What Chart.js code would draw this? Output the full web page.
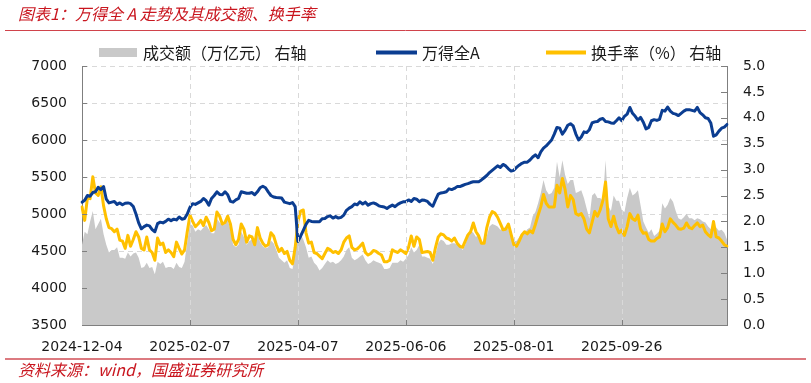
<!DOCTYPE html>
<html>
<head>
<meta charset="utf-8">
<script src="https://cdn.jsdelivr.net/npm/chart.js@4/dist/chart.umd.min.js"></script>
<style>
body { margin: 0; background: #fff; }
</style>
</head>
<body>
<canvas id="chart" width="811" height="383"></canvas>
<script>
// tick labels shown on the date axis
var tickLabels = ["2024-12-04", "2025-02-07", "2025-04-07", "2025-06-06", "2025-08-01", "2025-09-26"];

// exchange closed days (weekends are skipped as well)
var holidays = ["2025-01-01", "2025-01-28", "2025-01-29", "2025-01-30", "2025-01-31", "2025-02-03", "2025-02-04",
    "2025-04-04", "2025-05-01", "2025-05-02", "2025-05-05", "2025-06-02",
    "2025-10-01", "2025-10-02", "2025-10-03", "2025-10-06", "2025-10-07", "2025-10-08"];

// 万得全A
var windA = [
    5160, 5185, 5250, 5240, 5290, 5300, 5360, 5330, 5370, 5200,
    5150, 5160, 5170, 5130, 5150, 5125, 5145, 5150, 5140, 5100,
    5000, 4880, 4800, 4830, 4850, 4840, 4790, 4760, 4870, 4890,
    4880, 4900, 4930, 4910, 4930, 4920, 4960, 4930, 4940, 5000,
    5090, 5140, 5130, 5150, 5170, 5210, 5180, 5120, 5210, 5250,
    5300, 5265, 5260, 5300, 5260, 5170, 5160, 5190, 5210, 5300,
    5290, 5280, 5280, 5290, 5260, 5300, 5355, 5375, 5355, 5300,
    5250, 5230, 5222, 5220, 5215, 5160, 5150, 5140, 5155, 5100,
    4630, 4700, 4780, 4860, 4915, 4900, 4895, 4895, 4895, 4935,
    4940, 4965, 4975, 4945, 4965, 4945, 4955, 4985, 5050, 5080,
    5100, 5135, 5125, 5165, 5135, 5160, 5120, 5140, 5150, 5135,
    5110, 5100, 5095, 5075, 5100, 5120, 5100, 5130, 5150, 5165,
    5167, 5190, 5170, 5210, 5200, 5165, 5190, 5185, 5170, 5130,
    5105, 5190, 5270, 5285, 5290, 5300, 5340, 5330, 5345, 5370,
    5370, 5385, 5400, 5410, 5425, 5435, 5437, 5437, 5460, 5490,
    5520, 5560, 5590, 5620, 5650, 5630, 5670, 5650, 5610, 5580,
    5590, 5630, 5660, 5685, 5700, 5700, 5730, 5770, 5800, 5760,
    5840, 5890, 5920, 5960, 6000, 6080, 6170, 6160, 6080, 6130,
    6200, 6220, 6190, 6080, 6000, 6040, 6110, 6100, 6140, 6230,
    6245, 6250, 6280, 6290, 6250, 6245, 6230, 6225, 6260, 6300,
    6260, 6320, 6350, 6440, 6360, 6320, 6270, 6305, 6240, 6150,
    6170, 6260, 6275, 6265, 6280, 6400, 6390, 6445, 6390, 6360,
    6350, 6330, 6360, 6390, 6410, 6410, 6400, 6390, 6440, 6370,
    6340, 6300, 6290, 6230, 6050, 6070, 6120, 6160, 6175, 6210
];

// 换手率（%）
var turnoverRate = [
    2.28, 2.02, 2.45, 2.44, 2.86, 2.55, 2.50, 2.67, 2.30, 2.05,
    1.88, 1.86, 1.80, 1.85, 1.64, 1.62, 1.48, 1.73, 1.52, 1.65,
    1.80, 1.70, 1.48, 1.45, 1.70, 1.45, 1.40, 1.25, 1.68, 1.55,
    1.58, 1.40, 1.45, 1.40, 1.32, 1.60, 1.48, 1.37, 1.45, 1.80,
    2.12, 2.00, 1.90, 1.95, 2.02, 1.92, 2.08, 1.98, 1.82, 1.85,
    2.18, 2.10, 1.95, 1.98, 2.10, 1.95, 1.65, 1.55, 1.65, 1.95,
    1.85, 1.60, 1.72, 1.70, 1.55, 1.88, 1.68, 1.58, 1.52, 1.55,
    1.78, 1.72, 1.55, 1.42, 1.48, 1.38, 1.42, 1.25, 1.18, 1.50,
    2.00, 2.20, 2.22, 1.78, 1.58, 1.60, 1.40, 1.38, 1.33, 1.28,
    1.38, 1.48, 1.45, 1.40, 1.42, 1.38, 1.45, 1.60, 1.68, 1.72,
    1.50, 1.45, 1.47, 1.52, 1.58, 1.40, 1.35, 1.38, 1.44, 1.42,
    1.38, 1.35, 1.22, 1.22, 1.25, 1.45, 1.42, 1.40, 1.45, 1.42,
    1.38, 1.50, 1.72, 1.52, 1.70, 1.65, 1.40, 1.41, 1.42, 1.40,
    1.25, 1.50, 1.70, 1.76, 1.74, 1.68, 1.66, 1.62, 1.68, 1.58,
    1.52, 1.50, 1.62, 1.74, 1.80, 1.97, 1.80, 1.72, 1.58, 1.58,
    1.88, 2.08, 2.19, 2.16, 2.08, 1.96, 1.84, 1.85, 1.95, 1.75,
    1.55, 1.52, 1.62, 1.74, 1.80, 1.76, 1.82, 1.78, 1.94, 2.12,
    2.28, 2.52, 2.35, 2.28, 2.28, 2.28, 2.70, 2.55, 2.83, 2.62,
    2.28, 2.50, 2.42, 2.15, 2.12, 2.15, 2.05, 1.85, 1.78, 1.98,
    2.19, 2.10, 2.22, 2.40, 2.76, 2.05, 1.90, 2.10, 1.90, 1.78,
    1.83, 1.73, 1.90, 2.15, 2.05, 2.02, 2.12, 1.85, 1.77, 1.78,
    1.65, 1.62, 1.62, 1.67, 1.70, 1.95, 1.80, 1.88, 2.05, 1.98,
    1.93, 1.86, 1.85, 1.87, 1.97, 1.88, 1.86, 1.92, 1.97, 1.90,
    1.93, 1.80, 1.74, 1.70, 2.00, 1.70, 1.68, 1.62, 1.55, 1.52
];

// 成交额（万亿元）
var turnoverAmount = [
    1.55, 1.80, 1.75, 2.00, 2.20, 1.85, 1.95, 2.05, 1.75, 1.55,
    1.40, 1.45, 1.45, 1.50, 1.30, 1.30, 1.28, 1.40, 1.32, 1.38,
    1.40, 1.30, 1.10, 1.12, 1.20, 1.10, 1.12, 0.98, 1.22, 1.18,
    1.22, 1.10, 1.12, 1.12, 1.08, 1.20, 1.12, 1.10, 1.22, 1.60,
    1.95, 1.92, 1.80, 1.85, 1.82, 1.88, 1.93, 1.85, 1.77, 1.77,
    2.05, 1.98, 1.93, 1.95, 2.02, 1.85, 1.55, 1.50, 1.55, 1.80,
    1.70, 1.55, 1.62, 1.65, 1.55, 1.75, 1.60, 1.52, 1.48, 1.50,
    1.63, 1.58, 1.45, 1.30, 1.25, 1.20, 1.25, 1.10, 1.08, 1.40,
    1.70, 1.75, 1.65, 1.50, 1.30, 1.32, 1.20, 1.15, 1.05, 1.10,
    1.18, 1.25, 1.20, 1.22, 1.18, 1.20, 1.25, 1.32, 1.45, 1.50,
    1.30, 1.25, 1.28, 1.32, 1.36, 1.25, 1.18, 1.20, 1.25, 1.22,
    1.20, 1.18, 1.08, 1.08, 1.10, 1.20, 1.20, 1.20, 1.25, 1.22,
    1.28, 1.35, 1.50, 1.40, 1.45, 1.55, 1.32, 1.32, 1.30, 1.28,
    1.18, 1.35, 1.58, 1.65, 1.62, 1.55, 1.55, 1.58, 1.58, 1.55,
    1.52, 1.45, 1.55, 1.70, 1.82, 1.78, 1.70, 1.75, 1.60, 1.55,
    1.72, 1.90, 1.95, 1.93, 1.90, 1.84, 1.86, 1.90, 1.85, 1.70,
    1.62, 1.62, 1.70, 1.78, 1.77, 1.85, 1.88, 2.10, 2.18, 2.35,
    2.55, 2.80, 2.60, 2.52, 2.55, 2.65, 3.15, 2.85, 3.18, 2.90,
    2.72, 2.80, 2.80, 2.55, 2.57, 2.60, 2.45, 2.25, 2.05, 2.50,
    2.55, 2.45, 2.45, 2.40, 3.18, 2.30, 2.20, 2.50, 2.40, 2.40,
    2.22, 2.18, 2.45, 2.65, 2.50, 2.54, 2.60, 2.30, 2.00, 1.88,
    1.78, 1.85, 1.72, 1.76, 1.82, 2.35, 2.25, 2.32, 2.45, 2.38,
    2.20, 2.06, 2.03, 2.08, 2.15, 2.06, 2.06, 2.02, 2.06, 2.04,
    2.00, 1.98, 1.90, 1.85, 1.92, 1.88, 1.82, 1.84, 1.78, 1.65
];

// trading days starting 2024-12-04
var dates = [];
var day = Date.UTC(2024, 11, 4);
while (dates.length < windA.length) {
    var d = new Date(day);
    var s = d.toISOString().slice(0, 10);
    if (d.getUTCDay() != 0 && d.getUTCDay() != 6 && holidays.indexOf(s) < 0) {
        dates.push(s);
    }
    day += 86400000;
}

var blue = "#0b3d91";
var gold = "#ffc000";
var grey = "#c9c9c9";
var axisColor = "#7f7f7f";
var redText = "#c9161f";

// title, legend, source, and the short inside tick marks
var decorations = {
    id: "decorations",
    afterDraw: function(chart) {
        var ctx = chart.ctx;
        var area = chart.chartArea;
        var x = chart.scales.x, y = chart.scales.y, y1 = chart.scales.y1;
        ctx.save();

        // dashed vertical grid at the labelled dates
        ctx.strokeStyle = "#d9d9d9";
        ctx.lineWidth = 1;
        ctx.setLineDash([5, 4]);
        for (var i = 1; i < tickLabels.length; i++) {
            var px = Math.round(x.getPixelForValue(dates.indexOf(tickLabels[i]))) + 0.5;
            ctx.beginPath();
            ctx.moveTo(px, area.top);
            ctx.lineTo(px, area.bottom);
            ctx.stroke();
        }
        ctx.setLineDash([]);

        // inside tick marks
        ctx.strokeStyle = axisColor;
        for (var i = 1; i < tickLabels.length; i++) {
            var px = Math.round(x.getPixelForValue(dates.indexOf(tickLabels[i]))) + 0.5;
            ctx.beginPath();
            ctx.moveTo(px, area.bottom);
            ctx.lineTo(px, area.bottom - 5);
            ctx.stroke();
        }
        y.ticks.forEach(function(t) {
            var py = Math.round(y.getPixelForValue(t.value)) + 0.5;
            ctx.beginPath();
            ctx.moveTo(area.left, py);
            ctx.lineTo(area.left + 5, py);
            ctx.stroke();
        });
        y1.ticks.forEach(function(t) {
            var py = Math.round(y1.getPixelForValue(t.value)) + 0.5;
            ctx.beginPath();
            ctx.moveTo(area.right, py);
            ctx.lineTo(area.right - 6, py);
            ctx.stroke();
        });

        // title and rules
        ctx.fillStyle = redText;
        ctx.textBaseline = "middle";
        ctx.textAlign = "left";
        ctx.font = 'italic 16px "Noto Sans CJK SC"';
        ctx.fillText("图表1：万得全 A 走势及其成交额、换手率", 18, 14);
        ctx.fillText("资料来源：wind，国盛证券研究所", 18, 370);

        ctx.strokeStyle = "#d0434b";
        ctx.lineWidth = 1;
        ctx.beginPath();
        ctx.moveTo(5, 30.5);
        ctx.lineTo(806, 30.5);
        ctx.stroke();
        ctx.strokeStyle = "#dc7a80";
        ctx.lineWidth = 2;
        ctx.beginPath();
        ctx.moveTo(5, 359);
        ctx.lineTo(806, 359);
        ctx.stroke();

        // legend
        ctx.font = '16px "Noto Sans CJK SC"';
        ctx.fillStyle = grey;
        ctx.fillRect(99, 48, 38, 9);
        ctx.fillStyle = "#1a1a1a";
        ctx.fillText("成交额（万亿元） 右轴", 143, 53);

        ctx.lineWidth = 4;
        ctx.strokeStyle = blue;
        ctx.beginPath();
        ctx.moveTo(376, 52.5);
        ctx.lineTo(417, 52.5);
        ctx.stroke();
        ctx.fillText("万得全A", 422, 53);

        ctx.strokeStyle = gold;
        ctx.beginPath();
        ctx.moveTo(546, 52.5);
        ctx.lineTo(586, 52.5);
        ctx.stroke();
        ctx.fillText("换手率（%） 右轴", 591, 53);

        ctx.restore();
    }
};

var tickFont = { family: "DejaVu Sans", size: 14 };

new Chart(document.getElementById("chart"), {
    type: "line",
    data: {
        labels: dates,
        datasets: [{
            label: "万得全A",
            data: windA,
            yAxisID: "y",
            borderColor: blue,
            borderWidth: 3,
            order: 1
        }, {
            label: "换手率（%）",
            data: turnoverRate,
            yAxisID: "y1",
            borderColor: gold,
            borderWidth: 3,
            order: 2
        }, {
            label: "成交额（万亿元）",
            data: turnoverAmount,
            yAxisID: "y1",
            borderWidth: 0,
            borderColor: grey,
            backgroundColor: grey,
            fill: "origin",
            order: 3
        }]
    },
    options: {
        responsive: false,
        devicePixelRatio: 1,
        animation: false,
        elements: {
            point: { radius: 0 },
            line: { tension: 0, borderJoinStyle: "round", borderCapStyle: "round" }
        },
        layout: { padding: { top: 66, left: 0, right: 0, bottom: 0 } },
        plugins: {
            legend: { display: false },
            tooltip: { enabled: false }
        },
        scales: {
            x: {
                offset: false,
                grid: { display: false, drawTicks: false },
                border: { color: axisColor, width: 1 },
                ticks: {
                    autoSkip: false,
                    maxRotation: 0,
                    minRotation: 0,
                    padding: 14,
                    color: "#1a1a1a",
                    font: tickFont,
                    callback: function(value) {
                        var d = this.getLabelForValue(value);
                        return tickLabels.indexOf(d) >= 0 ? d : "";
                    }
                },
                afterFit: function(scale) { scale.height = 58; }
            },
            y: {
                position: "left",
                min: 3500,
                max: 7000,
                grid: { color: "#d9d9d9", drawTicks: false },
                border: { color: axisColor, width: 1, dash: [5, 4] },
                ticks: {
                    stepSize: 500,
                    padding: 15,
                    color: "#1a1a1a",
                    font: tickFont,
                    callback: function(v) { return String(v); }
                },
                afterFit: function(scale) { scale.width = 82; }
            },
            y1: {
                position: "right",
                min: 0,
                max: 5,
                grid: { display: false, drawTicks: false },
                border: { color: axisColor, width: 1 },
                ticks: {
                    stepSize: 0.5,
                    padding: 16,
                    color: "#1a1a1a",
                    font: tickFont,
                    callback: function(v) { return v.toFixed(1); }
                },
                afterFit: function(scale) { scale.width = 84; }
            }
        }
    },
    plugins: [decorations]
});
</script>
</body>
</html>
